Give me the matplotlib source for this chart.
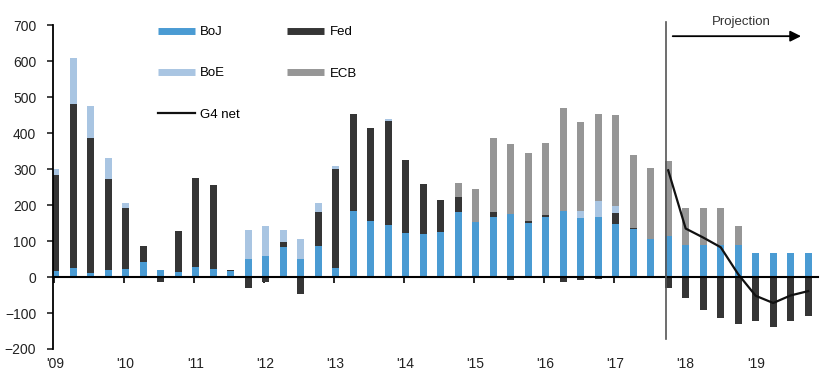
import numpy as np
import matplotlib
matplotlib.use("Agg")
import matplotlib.pyplot as plt
from matplotlib.lines import Line2D

plt.rcParams['font.family'] = ['Liberation Sans', 'DejaVu Sans']

# 2009Q1 .. 2019Q4 (44 quarters)
quarters = [f"{y}Q{q}" for y in range(2009, 2020) for q in range(1, 5)]
year_labels = ["'09", "'10", "'11", "'12", "'13", "'14", "'15", "'16", "'17", "'18", "'19"]

boj = [17, 26, 12, 20, 23, 42, 19, 13, 28, 23, 16, 51, 58, 84, 51, 87,
       25, 185, 156, 146, 123, 120, 126, 182, 153, 167, 175, 150, 168, 185, 164, 167,
       149, 134, 107, 113, 90, 90, 90, 90, 68, 68, 68, 68]
fed = [266, 455, 375, 252, 170, 45, -15, 114, 247, 233, 4, -30, -13, 14, -46, 94,
       276, 268, 259, 289, 204, 139, 88, 42, 0, 15, -8, 7, 5, -14, -7, -5,
       29, 3, 0, -31, -58, -91, -113, -130, -121, -139, -121, -107]
boe = [17, 129, 90, 59, 14, 0, 0, 0, 0, 0, 0, 81, 84, 34, 55, 24,
       7, 0, 0, 5, 0, 0, 0, 0, 0, 0, 0, 0, 0, 0, 21, 44,
       20, 0, 0, 0, 0, 0, 0, 0, 0, 0, 0, 0]
ecb = [0, 0, 0, 0, 0, 0, 0, 0, 0, 0, 0, 0, 0, 0, 0, 0,
       0, 0, 0, 0, 0, 0, 0, 38, 93, 205, 195, 187, 200, 286, 247, 243,
       252, 203, 195, 211, 103, 103, 103, 51, 0, 0, 0, 0]
# G4 net line (projection period only, 2017Q4 .. 2019Q4)
g4_start = 35
g4_net = [297, 135, 110, 83, 8, -52, -72, -51, -39]

series = [("BoJ", boj, "#4A9BD3"), ("Fed", fed, "#353535"),
          ("BoE", boe, "#A9C5E2"), ("ECB", ecb, "#969696")]

fig = plt.figure(figsize=(8.21, 3.89), dpi=100)
ax = fig.add_axes([53/821, 40/389, 765/821, 329/389])

x = np.arange(len(quarters))
pos_bottom = np.zeros(len(x))
neg_bottom = np.zeros(len(x))
width = 0.4
for name, vals, col in series:
    v = np.array(vals, dtype=float)
    bottom = np.where(v >= 0, pos_bottom, neg_bottom)
    ax.bar(x, v, width=width, bottom=bottom, color=col, linewidth=0, zorder=2)
    pos_bottom += np.where(v >= 0, v, 0)
    neg_bottom += np.where(v < 0, v, 0)

gx = np.arange(g4_start, g4_start + len(g4_net))
ax.plot(gx, g4_net, color="#111111", lw=1.6, zorder=4)

ax.set_xlim(-0.15, 43.56)
ax.set_ylim(-200, 715)

for s in ["top", "right"]:
    ax.spines[s].set_visible(False)
ax.spines["left"].set_bounds(-200, 700)
ax.spines["left"].set_linewidth(1.3)
ax.spines["bottom"].set_position(("data", 0))
ax.spines["bottom"].set_linewidth(1.5)
ax.spines["bottom"].set_zorder(5)

ax.set_yticks(np.arange(-200, 701, 100))
ax.tick_params(axis="y", direction="out", length=4, width=1.2, pad=8, labelsize=10, colors="#222222")
year_pos = x[::4]
ax.set_xticks(year_pos - 0.1)
ax.tick_params(axis="x", direction="out", length=4, width=1.2, labelbottom=False)
for p, lab in zip(year_pos, year_labels):
    ax.text(p, -0.045, lab, transform=ax.get_xaxis_transform(), ha="center", va="center",
            fontsize=10, color="#222222")

# projection marker
ax.plot([34.9, 34.9], [-171, 709], color="#555555", lw=1.2, zorder=6, clip_on=False)
ax.annotate("", xy=(42.75, 670), xytext=(35.1, 670),
            arrowprops=dict(arrowstyle="-|>", color="black", lw=1.3, mutation_scale=16),
            annotation_clip=False)
ax.text(39.2, 710, "Projection", ha="center", va="center", fontsize=9.5, color="#333333",
        clip_on=False)

handles = [Line2D([], [], color="#4A9BD3", lw=5, solid_capstyle="butt"),
           Line2D([], [], color="#A9C5E2", lw=5, solid_capstyle="butt"),
           Line2D([], [], color="#111111", lw=1.6),
           Line2D([], [], color="#353535", lw=5, solid_capstyle="butt"),
           Line2D([], [], color="#969696", lw=5, solid_capstyle="butt")]
labels = ["BoJ", "BoE", "G4 net", "Fed", "ECB"]
fig.legend(handles, labels, ncol=2, loc="upper left", bbox_to_anchor=(158/821, 1 - 26/389),
           frameon=False, fontsize=9.5, handlelength=2.8, handletextpad=0.4,
           columnspacing=3.6, labelspacing=2.2, borderpad=0, borderaxespad=0)

fig.savefig("out.png", dpi=100)
